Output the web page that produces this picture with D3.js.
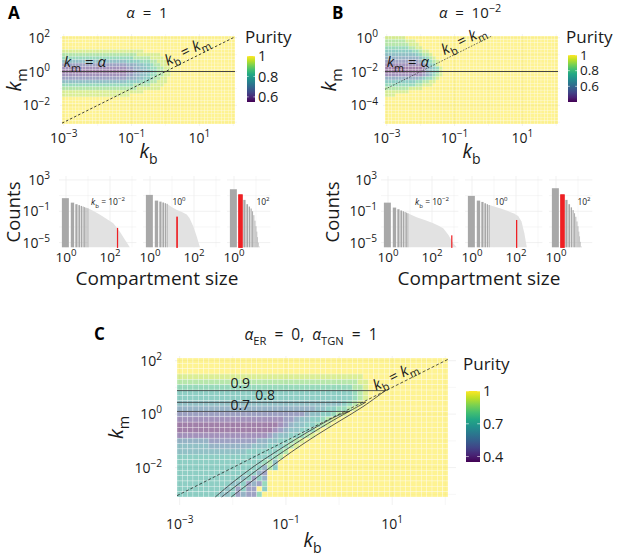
<!DOCTYPE html>
<html>
<head>
<meta charset="utf-8">
<script src="https://cdn.jsdelivr.net/npm/d3@7"></script>
<style>
  body { margin: 0; background: #fff; }
  svg text { white-space: pre; }
</style>
</head>
<body>
<svg id="fig" width="617" height="557"></svg>
<script>
// ---------------- data ----------------

// grid of the heatmaps, log10 values
const kbExp = [-3.0,-2.9,-2.8,-2.7,-2.6,-2.5,-2.4,-2.3,-2.2,-2.1,
               -2.0,-1.9,-1.8,-1.7,-1.6,-1.5,-1.4,-1.3,-1.2,-1.1,
               -1.0,-0.9,-0.8,-0.7,-0.6,-0.5,-0.4,-0.3,-0.2,-0.1,
               0.0,0.1,0.2,0.3,0.4,0.5,0.6,0.7,0.8,0.9,
               1.0,1.1,1.2,1.3,1.4,1.5,1.6,1.7,1.8,1.9,2.0];
const kmExpAC = [2.0,1.8,1.6,1.4,1.2,1.0,0.8,0.6,0.4,0.2,0.0,-0.2,-0.4,
                 -0.6,-0.8,-1.0,-1.2,-1.4,-1.6,-1.8,-2.0,-2.2,-2.4,-2.6,-2.8,-3.0];
const kmExpB = [0.0,-0.2,-0.4,-0.6,-0.8,-1.0,-1.2,-1.4,-1.6,-1.8,-2.0,-2.2,-2.4,
                -2.6,-2.8,-3.0,-3.2,-3.4,-3.6,-3.8,-4.0,-4.2,-4.4,-4.6,-4.8,-5.0];

// purity levels coded by the digits 0..9 in the rows below
const levelsA = [0.55,0.60,0.65,0.70,0.75,0.80,0.85,0.90,0.95,1.0];
const levelsB = [0.40,0.47,0.53,0.60,0.67,0.73,0.80,0.87,0.93,1.0];
const levelsC = [0.35,0.42,0.49,0.57,0.64,0.71,0.78,0.86,0.93,1.0];

// rows top -> bottom, "d*n" = digit d repeated n times
const purityA = [
  "9*51","9*51","9*51","9*51",
  "8*24 9*27",
  "7*19 7778888888999 9*19",
  "6*19 6677777888899 9*19",
  "4*19 5555666778889 9*19",
  "2*19 3334455677889 9*19",
  "1*19 2233445667788 9*19",
  "0*19 1123344567788 9*19",
  "1*19 2233445667788 9*19",
  "2*19 3334455677889 9*19",
  "4*19 5555666778889 9*19",
  "6*19 6677777888899 9*19",
  "7*19 7778888888999 9*19",
  "8*24 9*27",
  "8*20 9*31",
  "9*51","9*51","9*51","9*51","9*51","9*51","9*51","9*51"
];
const purityB = [
  "8*6 9*45",
  "7*6 888 9*42",
  "7*7 888 9*41",
  "6*7 7788 9*40",
  "5*8 66788 9*38",
  "4*9 56778 9*37",
  "3*10 45678 9*36",
  "2*10 345678 9*35",
  "1*11 24568 9*35",
  "0*11 134568 9*34",
  "0*11 134568 9*34",
  "1*11 234678 9*34",
  "3*10 456678 9*35",
  "5*9 667788 9*36",
  "6*8 677888 9*37",
  "7*6 78888 9*40",
  "8*7 9*44",
  "8*3 9*48",
  "9*51","9*51","9*51","9*51","9*51","9*51","9*51","9*51"
];
const purityC = [
  "9*51","9*51","9*51",
  "8*35 9*16",
  "7*34 88 9*15",
  "6*33 778 9*15",
  "5*33 678 9*15",
  "5*33 678 9*15",
  "4*31 5678 9*16",
  "3*26 44556678 9*17",
  "2*24 34455678 9*19",
  "1*20 2234455678 9*21",
  "0*19 1234455678 9*22",
  "0*18 123445568 9*24",
  "1*17 234455678 9*25",
  "3*6 2*9 334455678 9*27",
  "4*6 3*8 444555678 9*28",
  "4*12 455555567 9*30",
  "5*17 567 9*31",
  "5*16 674 9*32",
  "5*16 375 9*32",
  "5*15 32 9*34",
  "5*12 45253 9*34",
  "5*10 4452326 9*34",
  "5*9 45252295 9*34",
  "5*8 44523226 9*35"
];

const alphaA = 1, alphaB = 0.01;

// contours of panel C (log10 kb, log10 km)
const contourLevels = ["0.9", "0.8", "0.7"];
const contourFlatKm = [0.88, 0.44, 0.10];
const contourCurve09 = [[0.87,0.88],[0.45,0.28],[0.0,-0.27],[-0.45,-0.82],[-0.9,-1.42],[-1.3,-2.0],[-1.7,-2.6],[-2.03,-3.1]];
const contourCurve08 = [[0.5,0.44],[0.25,0.17],[-0.1,-0.22],[-0.6,-0.82],[-1.05,-1.4],[-1.45,-1.95],[-1.85,-2.55],[-2.21,-3.1]];
const contourCurve07 = [[0.2,0.10],[0.0,-0.03],[-0.4,-0.45],[-0.8,-0.92],[-1.2,-1.42],[-1.6,-1.95],[-2.0,-2.55],[-2.33,-3.1]];
const contourLabelPos = [[-1.86,0.98],[-1.39,0.53],[-1.86,0.15]];

// histograms: sizes, log10 counts, dense tail (log10 size, log10 count), red bar [size, log10 count]
const kbFacetExp = [-2, 0, 2];
const sizesA1 = [1,2,3,4,5,6,7,8,9,10];
const logCountsA1 = [0.67,0.10,-0.10,-0.22,-0.32,-0.40,-0.47,-0.53,-0.58,-0.63];
const tailA1 = [[1.0,-0.63],[1.25,-0.98],[1.55,-1.46],[1.85,-1.98],[2.15,-2.53],[2.45,-3.6],[2.68,-4.65],[2.9,-5.6]];
const redA1 = [220, -3.2];
const sizesA2 = [1,2,3,4,5,6];
const logCountsA2 = [1.09,0.36,0.23,0.12,0.03,-0.05];
const tailA2 = [[0.8,-0.1],[1.0,-0.5],[1.2,-0.8],[1.45,-1.1],[1.67,-1.4],[1.8,-1.9],[1.97,-2.95],[2.12,-4.2],[2.27,-5.6]];
const redA2 = [17, -1.76];
const sizesA3 = [1,2,3,4,5,6,7,8,9,10,11,12,13,14];
const logCountsA3 = [1.81,1.09,0.45,-0.1,-0.4,-0.65,-1.0,-1.5,-2.2,-2.9,-3.6,-4.3,-5.0,-5.5];
const redA3 = [2, 1.09];
const sizesB1 = [1,2,3,4,5,6,7,8];
const logCountsB1 = [0.10,-0.53,-0.74,-0.9,-1.0,-1.1,-1.18,-1.25];
const tailB1 = [[0.9,-1.25],[1.3,-1.76],[1.7,-2.15],[2.06,-2.53],[2.3,-2.85],[2.51,-3.17],[2.74,-4.0],[2.97,-5.1],[3.12,-5.6]];
const redB1 = [794, -4.15];
const sizesB2 = [1,2,3,4,5,6];
const logCountsB2 = [0.96,0.36,0.19,0.02,-0.1,-0.2];
const tailB2 = [[0.78,-0.2],[1.27,-0.61],[1.6,-0.95],[1.88,-1.25],[2.1,-1.6],[2.25,-2.3],[2.38,-3.8],[2.49,-5.6]];
const redB2 = [107, -2.19];
const sizesB3 = [1,2,3,4,5,6,7,8,9,10,11,12,13,14];
const logCountsB3 = [1.94,1.09,0.45,-0.1,-0.5,-0.85,-1.25,-1.7,-2.3,-2.9,-3.6,-4.2,-4.9,-5.5];
const redB3 = [2, 1.09];

// ---------------- helpers ----------------

let svg = d3.select("#fig").attr("font-family", "'Open Sans', 'DejaVu Sans', sans-serif");

function expandRow(s) {
    let out = [];
    s.split(/\s+/).forEach(tok => {
        if (tok.includes("*")) {
            let [d, n] = tok.split("*");
            for (let k = 0; k < +n; k++) out.push(+d);
        } else {
            tok.split("").forEach(c => out.push(+c));
        }
    });
    return out;
}

// text with sub / superscripts: parts = [{t, i (italic), s: "sub"|"sup"}]
function rich(text, parts, fs) {
    let cur = 0;
    parts.forEach(p => {
        let off = p.s === "sub" ? fs * 0.3 : p.s === "sup" ? -fs * 0.42 : 0;
        let ts = text.append("tspan").attr("dy", off - cur).text(p.t);
        if (p.s) ts.attr("font-size", fs * 0.72);
        if (p.i) ts.attr("font-style", "italic");
        cur = off;
    });
    return text;
}

function powParts(e) {
    return [{t: "10"}, {t: e < 0 ? "\u2212" + (-e) : String(e), s: "sup"}];
}

function addText(x, y, fs, anchor) {
    return svg.append("text").attr("x", x).attr("y", y)
        .attr("font-size", fs).attr("text-anchor", anchor || "start").attr("fill", "#1a1a1a");
}

// ---------------- heatmap panels ----------------

function heatPanel(o) {
    let xs = d3.scaleLog().domain([Math.pow(10, -3.05), Math.pow(10, 2.05)]).range([o.x0, o.x1]);
    let top = o.kmExp[0] + 0.1, bot = o.kmExp[o.kmExp.length - 1] - 0.1;
    let ys = d3.scaleLog().domain([Math.pow(10, bot), Math.pow(10, top)]).range([o.y1, o.y0]);
    let color = d3.scaleSequential(d3.interpolateViridis).domain([o.levels[0], 1]);

    let g = svg.append("g");

    // panel grid
    let ex = o.ext;
    d3.range(-3, 3).forEach(e => {
        g.append("line").attr("x1", xs(Math.pow(10, e))).attr("x2", xs(Math.pow(10, e)))
            .attr("y1", o.y0 - 2).attr("y2", o.y1 + ex)
            .attr("stroke", "#ebebeb").attr("stroke-width", o.xTicks.includes(e) ? 0.7 : 0.4);
    });
    d3.range(Math.ceil(bot), Math.floor(top) + 1).forEach(e => {
        g.append("line").attr("y1", ys(Math.pow(10, e))).attr("y2", ys(Math.pow(10, e)))
            .attr("x1", o.x0 - 2).attr("x2", o.x1 + ex)
            .attr("stroke", "#ebebeb").attr("stroke-width", o.yTicks.includes(e) ? 0.7 : 0.4);
    });

    // cells
    let cells = [];
    o.rows.forEach((row, i) => {
        expandRow(row).forEach((d, j) => {
            cells.push({u: kbExp[j], v: o.kmExp[i], p: o.levels[d]});
        });
    });
    g.selectAll("rect.cell").data(cells).enter().append("rect")
        .attr("class", "cell")
        .attr("x", d => xs(Math.pow(10, d.u - 0.05)))
        .attr("y", d => ys(Math.pow(10, d.v + 0.1)))
        .attr("width", d => xs(Math.pow(10, d.u + 0.05)) - xs(Math.pow(10, d.u - 0.05)))
        .attr("height", d => ys(Math.pow(10, d.v - 0.1)) - ys(Math.pow(10, d.v + 0.1)))
        .attr("fill", d => color(d.p))
        .attr("fill-opacity", 0.5)
        .attr("stroke", "#fff").attr("stroke-opacity", o.strokeOp).attr("stroke-width", o.cellStroke);

    // tick labels
    o.xTicks.forEach(e => {
        rich(addText(xs(Math.pow(10, e)), o.xLabY, 14, "middle"), powParts(e), 14);
    });
    o.yTicks.forEach(e => {
        rich(addText(o.yLabX, ys(Math.pow(10, e)) + 5, 14, "end"), powParts(e), 14);
    });

    // axis titles
    rich(addText(xs(Math.pow(10, -0.5)), o.xTitleY, 19.5, "middle"), [{t: "k", i: 1}, {t: "b", s: "sub"}], 19.5);
    rich(svg.append("text").attr("font-size", 20).attr("text-anchor", "middle").attr("fill", "#1a1a1a")
            .attr("transform", `translate(${o.yTitleX},${(o.y0 + o.y1) / 2}) rotate(-90)`),
        [{t: "k", i: 1}, {t: "m", s: "sub"}], 20);

    // colorbar
    let gid = "grad" + o.id;
    let grad = svg.append("defs").append("linearGradient").attr("id", gid)
        .attr("x1", 0).attr("y1", 1).attr("x2", 0).attr("y2", 0);
    d3.range(0, 1.0001, 0.1).forEach(t => {
        grad.append("stop").attr("offset", t)
            .attr("stop-color", color(o.levels[0] + t * (1 - o.levels[0])));
    });
    let cb = d3.scaleLinear().domain([o.levels[0], 1]).range([o.cb.y1, o.cb.y0]);
    svg.append("rect").attr("x", o.cb.x).attr("y", cb(1)).attr("width", o.cb.w)
        .attr("height", cb(o.levels[0]) - cb(1)).attr("fill", `url(#${gid})`);
    o.cb.ticks.forEach(v => {
        svg.append("line").attr("x1", o.cb.x).attr("x2", o.cb.x + o.cb.w * 0.2)
            .attr("y1", cb(v)).attr("y2", cb(v)).attr("stroke", "#fff").attr("stroke-width", 0.6);
        svg.append("line").attr("x1", o.cb.x + o.cb.w * 0.8).attr("x2", o.cb.x + o.cb.w)
            .attr("y1", cb(v)).attr("y2", cb(v)).attr("stroke", "#fff").attr("stroke-width", 0.6);
        addText(o.cb.x + o.cb.w + 3, cb(v) + o.cb.fs * 0.35, o.cb.fs).text(String(v));
    });
    addText(o.cb.titleX, o.cb.titleY, 17).text("Purity");

    // kb = km line
    let lo = Math.max(-3.05, bot), hi = Math.min(2.05, top);
    let diag = [[lo, lo], [hi, hi]];
    let line = d3.line().x(d => xs(Math.pow(10, d[0]))).y(d => ys(Math.pow(10, d[1])));
    svg.append("path").attr("d", line(diag)).attr("fill", "none")
        .attr("stroke", "#111").attr("stroke-width", o.dashW).attr("stroke-dasharray", o.dash);

    // label along diagonal
    let lu = o.diagLabelAt;
    let px = xs(Math.pow(10, lu)), py = ys(Math.pow(10, lu));
    let ang = Math.atan2(ys(10) - ys(1), xs(10) - xs(1)) * 180 / Math.PI;
    rich(svg.append("text").attr("font-size", 15).attr("text-anchor", "middle").attr("fill", "#1a1a1a")
            .attr("transform", `translate(${px},${py}) rotate(${ang}) translate(0,-4)`),
        [{t: "k", i: 1}, {t: "b", s: "sub"}, {t: " = "}, {t: "k", i: 1}, {t: "m", s: "sub"}], 15);

    return {xs, ys, line, top, bot};
}

// ---------------- panel A ----------------
let pA = heatPanel({
    id: "A", x0: 62, x1: 235, y0: 36, y1: 124, kmExp: kmExpAC, rows: purityA, levels: levelsA,
    xTicks: [-3, -1, 1], yTicks: [2, 0, -2], xLabY: 143, yLabX: 50, xTitleY: 158, yTitleX: 21,
    ext: 2, cellStroke: 0.35, strokeOp: 0.6, dash: "2.5,2", dashW: 0.8, diagLabelAt: 0.75,
    cb: {x: 247, w: 8, y0: 56, y1: 102, ticks: [1, 0.8, 0.6], titleX: 245, titleY: 43, fs: 14.5}
});
svg.append("path").attr("d", pA.line([[-3.05, Math.log10(alphaA)], [2.05, Math.log10(alphaA)]]))
    .attr("stroke", "#444").attr("stroke-width", 1.1).attr("fill", "none");
rich(addText(pA.xs(Math.pow(10, -3)), pA.ys(alphaA) - 4.5, 15),
    [{t: "k", i: 1}, {t: "m", s: "sub"}, {t: " = "}, {t: "\u03b1", i: 1}], 15);

// ---------------- panel B ----------------
let pB = heatPanel({
    id: "B", x0: 385, x1: 558, y0: 36, y1: 124, kmExp: kmExpB, rows: purityB, levels: levelsB,
    xTicks: [-3, -1, 1], yTicks: [0, -2, -4], xLabY: 143, yLabX: 378, xTitleY: 158, yTitleX: 336,
    ext: 2, cellStroke: 0.35, strokeOp: 0.6, dash: "1.6,1.4", dashW: 0.6, diagLabelAt: -0.62,
    cb: {x: 568, w: 9, y0: 55, y1: 102, ticks: [1, 0.8, 0.6], titleX: 566, titleY: 43, fs: 13.5}
});
svg.append("path").attr("d", pB.line([[-3.05, Math.log10(alphaB)], [2.05, Math.log10(alphaB)]]))
    .attr("stroke", "#444").attr("stroke-width", 1.1).attr("fill", "none");
rich(addText(pB.xs(Math.pow(10, -3)), pB.ys(alphaB) - 4.5, 15),
    [{t: "k", i: 1}, {t: "m", s: "sub"}, {t: " = "}, {t: "\u03b1", i: 1}], 15);

// ---------------- panel C ----------------
let pC = heatPanel({
    id: "C", x0: 177, x1: 448, y0: 358, y1: 497, kmExp: kmExpAC, rows: purityC, levels: levelsC,
    xTicks: [-3, -1, 1], yTicks: [2, 0, -2], xLabY: 529, yLabX: 162, xTitleY: 547, yTitleX: 123,
    ext: 8, cellStroke: 0.5, strokeOp: 0.6, dash: "3,2", dashW: 0.7, diagLabelAt: 1.13,
    cb: {x: 466, w: 14, y0: 391, y1: 462, ticks: [1, 0.7, 0.4], titleX: 463, titleY: 370, fs: 14.5}
});
[contourCurve09, contourCurve08, contourCurve07].forEach((curve, k) => {
    let flat = [[-3.05, contourFlatKm[k]], curve[0]];
    svg.append("path").attr("d", pC.line(flat))
        .attr("stroke", "#333").attr("stroke-width", 0.8).attr("fill", "none");
    let cl = d3.line().x(d => pC.xs(Math.pow(10, d[0]))).y(d => pC.ys(Math.pow(10, d[1])))
        .curve(d3.curveCatmullRom.alpha(0.5));
    svg.append("path").attr("d", cl(curve))
        .attr("stroke", "#333").attr("stroke-width", 0.8).attr("fill", "none");
    let lp = contourLabelPos[k];
    addText(pC.xs(Math.pow(10, lp[0])), pC.ys(Math.pow(10, lp[1])), 14, "middle").text(contourLevels[k]);
});

// ---------------- histograms ----------------
function histRow(o) {
    let ys = d3.scaleLog().domain([Math.pow(10, -5.6), Math.pow(10, 3.5)]).range([247.3, 176]);
    let base = ys.range()[0];
    o.facets.forEach((f, k) => {
        let xs = d3.scaleLog().domain([Math.pow(10, -0.32), Math.pow(10, f.maxE)])
            .range([f.x0 - 0.32 * 22, f.x0 + f.maxE * 22]);
        let g = svg.append("g");
        // grid
        [-5, -3, -1, 1, 3].forEach(e => {
            g.append("line").attr("x1", xs.range()[0]).attr("x2", xs.range()[1])
                .attr("y1", ys(Math.pow(10, e))).attr("y2", ys(Math.pow(10, e)))
                .attr("stroke", "#ebebeb").attr("stroke-width", [-5, -1, 3].includes(e) ? 0.7 : 0.4);
        });
        d3.range(0, Math.floor(f.maxE) + 1).forEach(e => {
            g.append("line").attr("x1", xs(Math.pow(10, e))).attr("x2", xs(Math.pow(10, e)))
                .attr("y1", 176).attr("y2", base)
                .attr("stroke", "#ebebeb").attr("stroke-width", e % 2 === 0 ? 0.7 : 0.4);
        });
        // dense tail
        if (f.tail) {
            let area = d3.area().x(d => xs(Math.pow(10, d[0]))).y0(base).y1(d => ys(Math.pow(10, d[1])));
            g.append("path").attr("d", area(f.tail)).attr("fill", "#e2e2e2");
        }
        // bars
        let bars = f.sizes.map((s, i) => ({s: s, c: f.counts[i]}));
        g.selectAll("rect.bar").data(bars).enter().append("rect")
            .attr("class", "bar")
            .attr("x", d => xs(d.s - 0.35))
            .attr("width", d => xs(d.s + 0.35) - xs(d.s - 0.35))
            .attr("y", d => ys(Math.pow(10, d.c)))
            .attr("height", d => base - ys(Math.pow(10, d.c)))
            .attr("fill", "#a8a8a8");
        // red bar
        g.append("rect")
            .attr("x", xs(f.red[0] - 0.35))
            .attr("width", xs(f.red[0] + 0.35) - xs(f.red[0] - 0.35))
            .attr("y", ys(Math.pow(10, f.red[1])))
            .attr("height", base - ys(Math.pow(10, f.red[1])))
            .attr("fill", "#ee2024").attr("stroke", "#ee2024").attr("stroke-width", 1.2);
        // x ticks
        d3.range(0, Math.floor(f.maxE) + 1, 2).forEach(e => {
            rich(addText(xs(Math.pow(10, e)), 262, 13.5, "middle"), powParts(e), 13.5);
        });
        // facet label
        let parts = k === 0 ? [{t: "k", i: 1}, {t: "b", s: "sub"}, {t: " = "}].concat(powParts(kbFacetExp[k]))
                            : powParts(kbFacetExp[k]);
        rich(addText(f.x0 + f.labDx, 205, 8.5, "middle"), parts, 8.5);
    });
    [3, -1, -5].forEach(e => {
        rich(addText(o.yLabX, ys(Math.pow(10, e)) + 5, 14, "end"), powParts(e), 14);
    });
    svg.append("text").attr("font-size", 18.5).attr("text-anchor", "middle").attr("fill", "#1a1a1a")
        .attr("transform", `translate(${o.countsX},212) rotate(-90)`).text("Counts");
    addText(o.titleX, 285, 19, "middle").text("Compartment size");
}

histRow({
    yLabX: 50, countsX: 20, titleX: 157,
    facets: [
        {x0: 66, maxE: 3.2, sizes: sizesA1, counts: logCountsA1, tail: tailA1, red: redA1, labDx: 42},
        {x0: 150, maxE: 3.2, sizes: sizesA2, counts: logCountsA2, tail: tailA2, red: redA2, labDx: 29},
        {x0: 234, maxE: 1.65, sizes: sizesA3, counts: logCountsA3, tail: null, red: redA3, labDx: 29}
    ]
});
histRow({
    yLabX: 377, countsX: 339, titleX: 479,
    facets: [
        {x0: 388, maxE: 3.2, sizes: sizesB1, counts: logCountsB1, tail: tailB1, red: redB1, labDx: 44},
        {x0: 472, maxE: 3.2, sizes: sizesB2, counts: logCountsB2, tail: tailB2, red: redB2, labDx: 29},
        {x0: 556, maxE: 1.65, sizes: sizesB3, counts: logCountsB3, tail: null, red: redB3, labDx: 28}
    ]
});

// ---------------- titles and panel letters ----------------
rich(addText(147, 18, 15, "middle"), [{t: "\u03b1", i: 1}, {t: "  =  1"}], 15);
rich(addText(470, 18, 15, "middle"), [{t: "\u03b1", i: 1}, {t: "  =  "}].concat(powParts(-2)), 15);
rich(addText(311, 340, 15.5, "middle"),
    [{t: "\u03b1", i: 1}, {t: "ER", s: "sub"}, {t: "  =  0,  "}, {t: "\u03b1", i: 1}, {t: "TGN", s: "sub"}, {t: "  =  1"}], 15.5);

addText(8, 19, 17).attr("font-weight", "bold").attr("fill", "#000").text("A");
addText(332, 19, 17).attr("font-weight", "bold").attr("fill", "#000").text("B");
addText(94, 340, 17).attr("font-weight", "bold").attr("fill", "#000").text("C");
</script>
</body>
</html>
